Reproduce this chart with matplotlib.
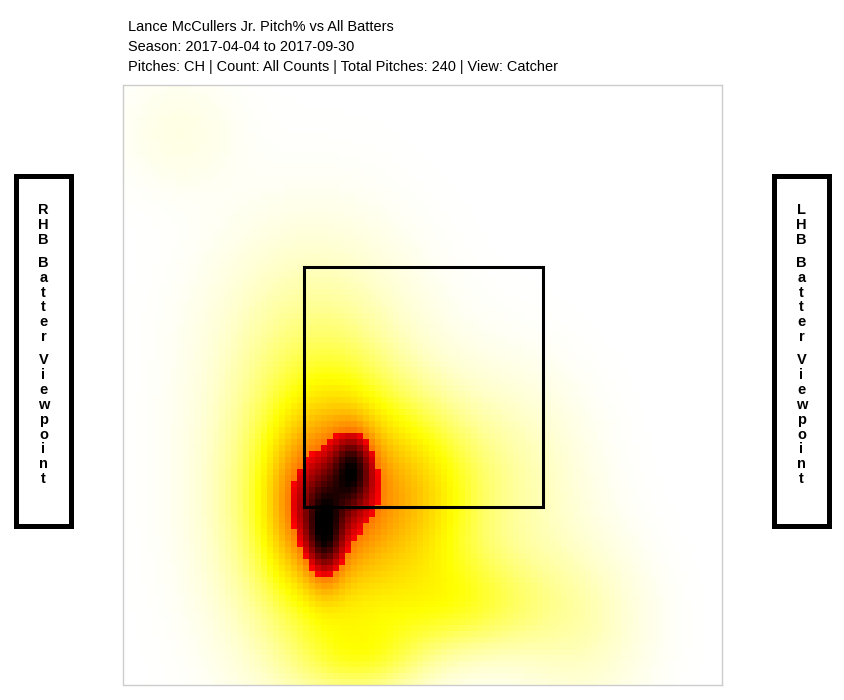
import numpy as np
import matplotlib
matplotlib.use('agg')
import matplotlib.pyplot as plt
from matplotlib.colors import LinearSegmentedColormap
from matplotlib.patches import Rectangle

plt.rcParams['font.family'] = ['Liberation Sans', 'DejaVu Sans']

title_lines = ["Lance McCullers Jr. Pitch% vs All Batters",
               "Season: 2017-04-04 to 2017-09-30",
               "Pitches: CH | Count: All Counts | Total Pitches: 240 | View: Catcher"]
left_label = "RHB Batter Viewpoint"
right_label = "LHB Batter Viewpoint"

# location clusters, in feet from catcher view
cluster_x = [-0.82, -0.58, -0.72, -0.85, 0.30, -1.00, -2.03, 0.70, -0.50, 1.30, -0.14, -0.80, -1.05]
cluster_z = [1.22, 1.82, 1.62, 1.55, 0.68, 3.00, 4.60, 1.70, 0.25, 0.50, 1.55, 1.60, 1.50]
cluster_sx = [0.11, 0.12, 0.24, 0.45, 0.50, 0.55, 0.35, 0.45, 0.35, 0.40, 0.40, 0.60, 0.18]
cluster_sz = [0.28, 0.22, 0.50, 0.75, 0.30, 0.60, 0.35, 0.60, 0.22, 0.50, 0.50, 1.10, 0.40]
cluster_w = [0.32, 0.29, 0.20, 0.25, 0.16, 0.04, 0.025, 0.07, 0.12, 0.06, 0.27, 0.10, 0.18]

zone_left, zone_right = -1.0, 1.0
zone_bot, zone_top = 1.5, 3.5
n_cells = 100


def px_x(p):
    return p / 845.0


def px_y(p):
    return 1 - p / 700.0


x_edges = np.linspace(-2.5, 2.5, n_cells + 1)
z_edges = np.linspace(0, 5, n_cells + 1)
xc = (x_edges[:-1] + x_edges[1:]) / 2
zc = (z_edges[:-1] + z_edges[1:]) / 2
xx, zz = np.meshgrid(xc, zc)

density = np.zeros_like(xx)
for cx, cz, sx, sz, w in zip(cluster_x, cluster_z, cluster_sx, cluster_sz, cluster_w):
    density += w * np.exp(-0.5 * (((xx - cx) / sx) ** 2 + ((zz - cz) / sz) ** 2))

cmap = LinearSegmentedColormap.from_list('pitch', [
    (0.0, '#ffffff'), (0.24, '#ffff00'), (0.55, '#ff7800'),
    (0.551, '#ff0000'), (0.88, '#000000'), (1.0, '#000000')], N=512)

fig = plt.figure(figsize=(8.45, 7.0), dpi=100)
ax = fig.add_axes([px_x(123.5), px_y(685), 599 / 845.0, 600 / 700.0])
ax.pcolormesh(x_edges, z_edges, density, cmap=cmap, vmin=0, vmax=1)
# box sits about 1px off the limits in the original
ax.add_patch(Rectangle((zone_left + 0.004, zone_bot - 0.016), zone_right - zone_left, zone_top - zone_bot,
                       fill=False, ec='black', lw=2.2))
ax.set_xlim(-2.5, 2.5)
ax.set_ylim(0, 5)
ax.set_xticks([])
ax.set_yticks([])
for s in ax.spines.values():
    s.set_color('#cccccc')
    s.set_linewidth(1)

for line, y in zip(title_lines, [31, 51, 71]):
    fig.text(px_x(128), px_y(y), line, fontsize=10.45, va='baseline', ha='left', color='black')


def side_box(left, label):
    fig.add_artist(Rectangle((px_x(left), px_y(526)), 55 / 845.0, 350 / 700.0, fill=False,
                             ec='black', lw=3.6, transform=fig.transFigure))
    y = 210
    cx = left + 27.5
    for ch in label:
        if ch == ' ':
            y += 8
            continue
        fig.text(px_x(cx), px_y(y), ch, fontsize=10.5, fontweight='bold', ha='center', va='center')
        y += 14.9


side_box(16, left_label)
side_box(774, right_label)

fig.savefig('out.png', dpi=100)
